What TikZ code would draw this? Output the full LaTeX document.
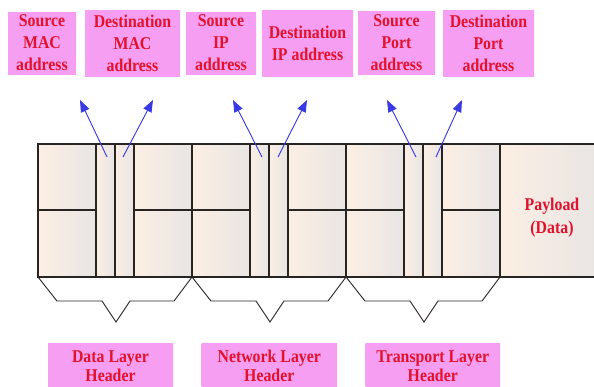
\documentclass[tikz,border=0pt]{standalone}
\usepackage{fontspec}
\setmainfont{Liberation Serif}[FakeStretch=0.88]
\usetikzlibrary{arrows.meta}

\definecolor{labelred}{RGB}{226,18,45}
\definecolor{boxpink}{RGB}{246,158,241}
\definecolor{boxmid}{RGB}{226,218,228}
\definecolor{cellpeach}{RGB}{252,239,228}
\definecolor{cellgray}{RGB}{232,229,228}
\definecolor{gridline}{RGB}{40,36,34}
\definecolor{arrowblue}{RGB}{58,58,228}

\tikzset{
  labeltext/.style={text=labelred, font=\fontsize{18}{22}\selectfont\bfseries, align=center},
  pinkbox/.style={labeltext, left color=boxpink, middle color=boxmid, right color=boxpink,
                  inner sep=0pt},
  layerbox/.style={pinkbox, font=\fontsize{18}{19}\selectfont\bfseries, minimum height=46pt},
  cell/.style={draw=gridline, line width=1.1pt, left color=cellpeach, right color=cellgray},
  brace/.style={draw=gridline, line width=0.9pt},
  pointer/.style={draw=arrowblue, line width=0.9pt, -{Triangle[length=12pt,width=9pt]}, fill=arrowblue}
}

\begin{document}
\begin{tikzpicture}[x=1pt,y=-1pt]
\clip (0,0) rectangle (594,386);
\fill[white] (0,0) rectangle (594,386);

% field labels above the header
\node[pinkbox, minimum width=68pt, minimum height=62pt] (smac) at (42,43) {Source\\MAC\\address};
\node[pinkbox, minimum width=95pt, minimum height=66pt] (dmac) at (132.5,43) {Destination\\MAC\\address};
\node[pinkbox, minimum width=70pt, minimum height=62pt] (sip) at (221,43) {Source\\IP\\address};
\node[pinkbox, minimum width=91pt, minimum height=66pt] (dip) at (307.5,43) {Destination\\IP address};
\node[pinkbox, minimum width=77pt, minimum height=63pt] (sport) at (396.5,43) {Source\\Port\\address};
\node[pinkbox, minimum width=91pt, minimum height=66pt] (dport) at (488.5,43) {Destination\\Port\\address};

% header fields: three groups of cells
\foreach \o/\g in {38/a,192/b,346/c}{
  \path[cell] (\o,144) rectangle ++(58,66);
  \path[cell] (\o,210) rectangle ++(58,67);
  \path[cell] (\o+58,144) rectangle ++(19,133);
  \path[cell] (\o+77,144) rectangle ++(19,133);
  \path[cell] (\o+96,144) rectangle ++(58,66);
  \path[cell] (\o+96,210) rectangle ++(58,67);
  % bracket under the group
  \draw[brace] (\o,277) -- ++(19,24) -- ++(45,0) -- ++(14,21) coordinate (tip\g)
               -- ++(14,-21) -- ++(44,0) -- ++(18,-24);
}

% payload
\path[cell] (500,144) rectangle (600,277);
\node[labeltext, font=\fontsize{18}{23}\selectfont\bfseries] (payload) at (552,217.5) {Payload\\(Data)};

% pointers from the narrow fields to their labels
\foreach \t/\h/\n in {107/80/1,123/153/2,262/233/3,278/307/4,416/387/5,436/462/6}{
  \coordinate (tail\n) at (\t,157);
  \coordinate (head\n) at (\h,100);
  \draw[pointer] (tail\n) -- (head\n);
}

% layer names below the header
\node[layerbox, minimum width=125pt] (dlh) at (110.5,366) {Data Layer\\Header};
\node[layerbox, minimum width=135.5pt] (nlh) at (269.25,366) {Network Layer\\Header};
\node[layerbox, minimum width=134.5pt] (tlh) at (432.75,366) {Transport Layer\\Header};
\end{tikzpicture}
\end{document}
